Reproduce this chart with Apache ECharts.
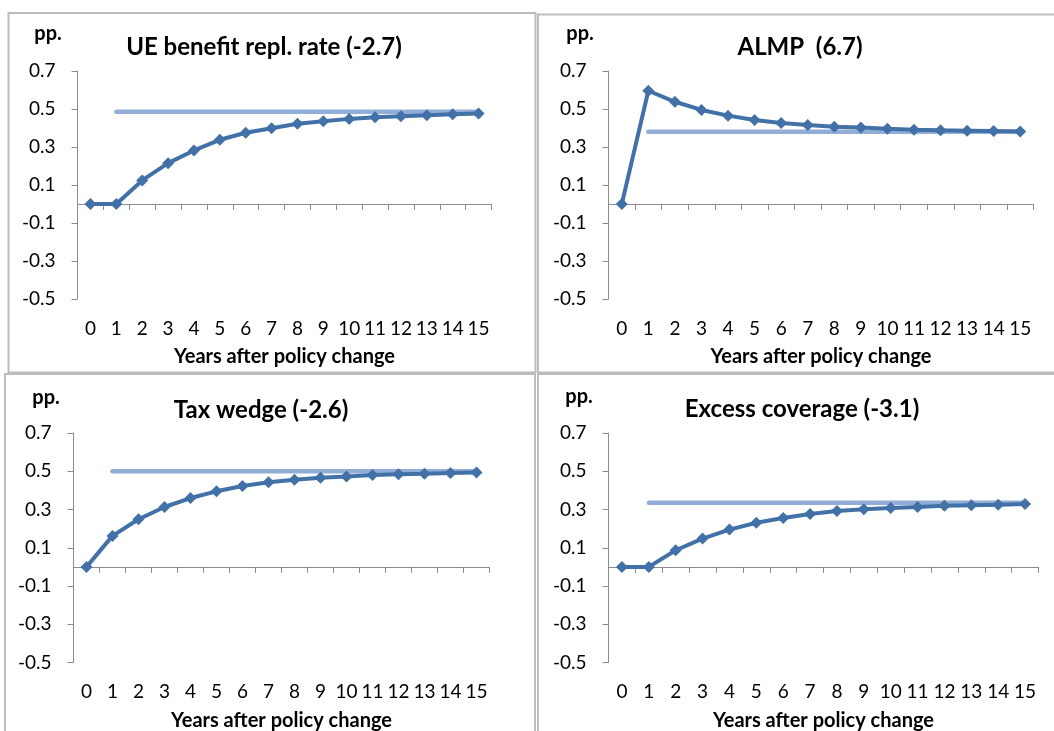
<!DOCTYPE html>
<html>
<head>
<meta charset="utf-8">
<script src="https://cdn.jsdelivr.net/npm/echarts@6/dist/echarts.min.js"></script>
<style>
html,body{margin:0;padding:0;background:#fff;}
#chart{width:1054px;height:731px;}
</style>
</head>
<body>
<div id="chart"></div>
<script>
// ---- data ----
const years = ['0','1','2','3','4','5','6','7','8','9','10','11','12','13','14','15'];
const yTicks = [-0.5, -0.3, -0.1, 0.1, 0.3, 0.5, 0.7];
const yMin = -0.5, yMax = 0.7;

const panelTitles = ['UE benefit repl. rate (-2.7)', 'ALMP  (6.7)', 'Tax wedge (-2.6)', 'Excess coverage (-3.1)'];
const unitLabel = 'pp.';
const xAxisTitle = 'Years after policy change';

const ueBenefit      = [0, 0, 0.124, 0.215, 0.282, 0.338, 0.375, 0.399, 0.422, 0.436, 0.448, 0.457, 0.462, 0.467, 0.473, 0.476];
const ueBenefitLong  = 0.485;
const almp           = [0, 0.596, 0.538, 0.495, 0.465, 0.442, 0.426, 0.416, 0.407, 0.402, 0.396, 0.391, 0.388, 0.386, 0.384, 0.382];
const almpLong       = 0.38;
const taxWedge       = [0, 0.162, 0.249, 0.313, 0.360, 0.395, 0.423, 0.442, 0.456, 0.466, 0.473, 0.480, 0.484, 0.487, 0.491, 0.494];
const taxWedgeLong   = 0.50;
const excessCoverage = [0, 0, 0.087, 0.148, 0.195, 0.231, 0.256, 0.277, 0.292, 0.301, 0.308, 0.313, 0.319, 0.322, 0.325, 0.329];
const excessCoverageLong = 0.335;

const seriesValues = [ueBenefit, almp, taxWedge, excessCoverage];
const longRunValues = [ueBenefitLong, almpLong, taxWedgeLong, excessCoverageLong];

// ---- layout (positions / styles) ----
const FONT = 'Lato';
const layout = [
  {grid:{left:77.5, top:71, width:414, height:228}, title:[264,47], pp:[48,34], border:{x:8.5,y:13,w:527,h:359.5}},
  {grid:{left:608.5, top:71, width:425, height:228}, title:[800,47], pp:[580,34], border:{x:538,y:14.5,w:530,h:358}},
  {grid:{left:73.5, top:433, width:416, height:229.5}, title:[261,410], pp:[46,398], border:{x:5,y:374,w:530,h:370}},
  {grid:{left:608.5, top:433, width:430, height:229.5}, title:[802,409], pp:[579,397], border:{x:538,y:374,w:530,h:370}}
];
const darkBlue = '#4271A8';
const lightBlue = '#93AED6';
const axisGray = '#8C8C8C';

const grids = [], xAxes = [], yAxes = [], series = [], graphics = [];
layout.forEach((L, i) => {
  grids.push(Object.assign({outerBoundsMode:'none', containLabel:false}, L.grid));
  yAxes.push({
    gridIndex:i, type:'value', min:yMin, max:yMax,
    axisLine:{show:true, onZero:false, lineStyle:{color:axisGray, width:1}},
    axisTick:{show:true, length:6, customValues:yTicks, lineStyle:{color:axisGray}},
    axisLabel:{customValues:yTicks, margin:22, color:'#000', fontFamily:FONT, fontSize:19,
               formatter:v => v.toFixed(1)},
    splitLine:{show:false}
  });
  // label axis at bottom (index 2i)
  xAxes.push({
    gridIndex:i, type:'category', data:years, position:'bottom', boundaryGap:true,
    axisLine:{show:false, onZero:false}, axisTick:{show:false},
    axisLabel:{margin:20, color:'#000', fontFamily:FONT, fontSize:19, interval:0},
    name:xAxisTitle, nameLocation:'middle', nameGap:48,
    nameTextStyle:{fontFamily:FONT, fontWeight:'bold', fontSize:20, color:'#000'}
  });
  // zero line axis (index 2i+1)
  xAxes.push({
    gridIndex:i, type:'category', data:years, position:'top', boundaryGap:true,
    axisLine:{show:true, onZero:true, lineStyle:{color:axisGray, width:1}},
    axisTick:{show:true, inside:true, length:6, interval:0, lineStyle:{color:axisGray}},
    axisLabel:{show:false}
  });
  series.push({
    type:'line', xAxisIndex:2*i, yAxisIndex:i, z:2,
    data:[[years[1], longRunValues[i]], [years[years.length-1], longRunValues[i]]],
    symbol:'none', lineStyle:{color:lightBlue, width:4.5, cap:'round'}, silent:true
  });
  series.push({
    type:'line', xAxisIndex:2*i, yAxisIndex:i, z:3,
    data:seriesValues[i],
    symbol:'diamond', symbolSize:12, showAllSymbol:true,
    lineStyle:{color:darkBlue, width:4}, itemStyle:{color:darkBlue}, silent:true
  });
  graphics.push({type:'rect', silent:true, z:-1,
    shape:{x:L.border.x, y:L.border.y, width:L.border.w, height:L.border.h},
    style:{fill:null, stroke:'#BDBDBD', lineWidth:2}});
  graphics.push({type:'text', silent:true, x:L.title[0], y:L.title[1],
    style:{text:panelTitles[i], align:'center', verticalAlign:'middle',
           font:'bold 24px ' + FONT, fill:'#000'}});
  graphics.push({type:'text', silent:true, x:L.pp[0], y:L.pp[1],
    style:{text:unitLabel, align:'center', verticalAlign:'middle',
           font:'bold 20px ' + FONT, fill:'#000'}});
});

const chart = echarts.init(document.getElementById('chart'), null, {renderer:'canvas'});
chart.setOption({
  animation:false,
  backgroundColor:'#fff',
  grid:grids, xAxis:xAxes, yAxis:yAxes, series:series,
  graphic:graphics
});
</script>
</body>
</html>
